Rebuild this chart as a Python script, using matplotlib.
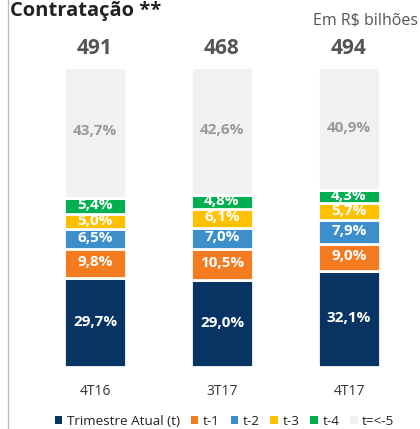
import numpy as np
import matplotlib.pyplot as plt
from matplotlib.patches import Patch
from matplotlib.lines import Line2D

plt.rcParams['font.family'] = ['Open Sans', 'DejaVu Sans']

periods = ['4T16', '3T17', '4T17']
totals = [491, 468, 494]
series = ['Trimestre Atual (t)', 't-1', 't-2', 't-3', 't-4', 't=<-5']
shares = {
    'Trimestre Atual (t)': [29.7, 29.0, 32.1],
    't-1': [9.8, 10.5, 9.0],
    't-2': [6.5, 7.0, 7.9],
    't-3': [5.0, 6.1, 5.7],
    't-4': [5.4, 4.8, 4.3],
    't=<-5': [43.7, 42.6, 40.9],
}
colors = ['#073462', '#F47B20', '#3C8FCB', '#FFC000', '#00B050', '#F1F1F1']
label_colors = ['white', 'white', 'white', 'white', 'white', '#9A9A9A']

W, H = 420, 429
fig = plt.figure(figsize=(W / 100, H / 100), dpi=100)
ax = fig.add_axes([31.5 / W, (H - 367) / H, 381 / W, 300 / H])

x = np.arange(len(periods))
bottom = np.zeros(len(periods))
for name, col, lc in zip(series, colors, label_colors):
    vals = np.array(shares[name])
    ax.bar(x, vals, width=0.49, bottom=bottom, color=col,
           edgecolor='white', linewidth=2)
    for xi, b, v in zip(x, bottom, vals):
        ax.text(xi, b + v / 2 + 0.3, f'{v:.1f}%'.replace('.', ','),
                ha='center', va='center', color=lc, fontsize=11,
                fontweight='bold')
    bottom += vals

for xi, t in zip(x, totals):
    ax.text(xi, 106, str(t), ha='center', va='center', fontsize=15,
            fontweight='bold', color='#555555', clip_on=False)

ax.set_xlim(-0.5, 2.5)
ax.set_ylim(0, 100)
ax.set_xticks(x)
ax.set_xticklabels(periods, fontsize=10, color='#333333')
ax.tick_params(axis='x', length=0, pad=12)
ax.set_yticks([])
for s in ax.spines.values():
    s.set_visible(False)

# header texts
fig.text(10 / W, 1 - 16 / H, 'Contratação **', fontsize=14.5, fontweight='bold',
         color='#222222', va='baseline', ha='left')
fig.text(418 / W, 1 - 25 / H, 'Em R$ bilhões', fontsize=11.5,
         color='#555555', va='baseline', ha='right')

# thin rule on the left edge
fig.add_artist(Line2D([7.5 / W, 7.5 / W], [0, 1], color='#BDBDBD', lw=1))

handles = [Patch(facecolor=c, edgecolor='none') for c in colors]
fig.legend(handles, series, loc='lower center', bbox_to_anchor=(0.535, -0.025),
           ncol=6, frameon=False, fontsize=9.7, handlelength=0.55,
           handleheight=0.55, handletextpad=0.35, columnspacing=0.8,
           labelcolor='#222222')

fig.savefig('out.png', dpi=100)
